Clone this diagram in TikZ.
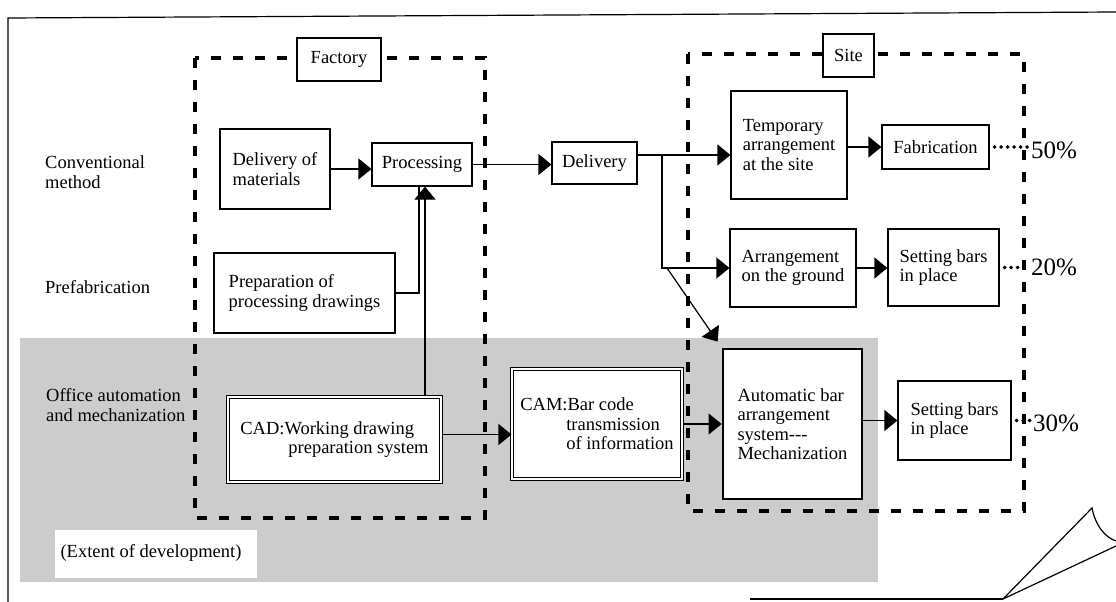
\documentclass[tikz,border=0pt]{standalone}
\usepackage{fontspec}
\setmainfont{Liberation Serif}
\usetikzlibrary{arrows.meta,calc}
\begin{document}
\begin{tikzpicture}[x=1pt,y=-1pt,
  every node/.style={font=\fontsize{18.5}{19.5}\selectfont},
  box/.style={draw=black,line width=1.2pt,fill=white,inner sep=0pt,align=left},
  dbox/.style={box,double=white,double distance=1.4pt,line width=1.1pt},
  tbox/.style={box,line width=2.8pt},
  zone/.style={line width=3.4pt,dash pattern=on 10pt off 12pt},
  arr/.style={line width=1.2pt,-{Triangle[length=13pt,width=21pt]}},
  conn/.style={line width=1.2pt},
  dotline/.style={line width=3.8pt,line cap=round,dash pattern=on 0pt off 6.5pt,shorten <=5pt,shorten >=1pt},
  side/.style={anchor=west,align=left,inner sep=0pt},
  pct/.style={anchor=west,inner sep=0pt,font=\fontsize{25}{25}\selectfont}]
\useasboundingbox (0,0) rectangle (1116,602);
\fill[white] (0,0) rectangle (1116,602);
% shaded extent of development
\fill[black!20] (20,338) rectangle (878,582);
\fill[white] (55,530) rectangle (257,578);
\node[inner sep=0pt] (extent) at (151,553) {(Extent of development)};
% outer frame and page curl
\draw[line width=1.2pt] (8,602) -- (8,18) -- (1116,12);
\draw[line width=1.2pt] (750,599) -- (1003,599);
\draw[line width=1.2pt] (1003,599) -- (1092,508) .. controls (1095,524) and (1104,537) .. (1116,541);
\draw[line width=1.2pt] (1003,599) -- (1116,546);
% zones
\draw[zone] (195,58) rectangle (485,518);
\draw[zone] (688,54) rectangle (1024,511);
\node[box,minimum width=84pt,minimum height=43pt] (factory) at (339,59.5) {Factory};
\node[box,minimum width=51pt,minimum height=43pt] (site) at (848.5,55.5) {Site};
% side labels
\node[side] (conv) at (45,172) {Conventional\\method};
\node[side] (prefab) at (45,287) {Prefabrication};
\node[side] (office) at (46,405) {Office automation\\and mechanization};
% boxes
\node[box,minimum width=110pt,minimum height=80pt] (dom) at (275,169) {Delivery of\\materials};
\node[box,minimum width=100pt,minimum height=43pt] (proc) at (422,164.5) {Processing};
\node[box,minimum width=181pt,minimum height=80pt] (prep) at (304.5,293) {Preparation of\\processing drawings};
\node[dbox,minimum width=213pt,minimum height=85pt] (cad) at (334.5,439.5) {CAD:Working drawing\\\hspace*{48pt}preparation system};
\node[box,minimum width=85pt,minimum height=42pt] (deliv) at (594.5,163) {Delivery};
\node[dbox,minimum width=170pt,minimum height=110pt] (cam) at (597,424) {CAM:Bar code\\\hspace*{46pt}transmission\\\hspace*{46pt}of information};
\node[box,minimum width=116pt,minimum height=108pt] (temp) at (789,145) {Temporary\\arrangement\\at the site};
\node[box,minimum width=107pt,minimum height=44pt] (fab) at (935.5,147) {Fabrication};
\node[box,minimum width=126pt,minimum height=78pt] (arrg) at (793,268) {Arrangement\\on the ground};
\node[box,minimum width=111pt,minimum height=77pt] (set2) at (943.5,267.5) {Setting bars\\in place};
\node[tbox,minimum width=139pt,minimum height=150pt] (auto) at (792.5,424) {Automatic bar\\arrangement\\system-{}-{}-\\Mechanization};
\node[box,minimum width=113pt,minimum height=79pt] (set3) at (954.5,420.5) {Setting bars\\in place};
% percentages
\node[pct] (p50) at (1031,150) {50\%};
\node[pct] (p20) at (1031,267) {20\%};
\node[pct] (p30) at (1033,423) {30\%};
% connectors
\draw[arr] (dom.east) -- (dom.east -| proc.west);
\draw[arr] (proc.east) -- (proc.east -| deliv.west);
\draw[arr] ([yshift=8pt]deliv.east) -- ([yshift=8pt]deliv.east -| temp.west);
\coordinate (br) at (662,155);
\draw[arr] (br) |- (arrg.west);
\coordinate (brd) at (667,268);
\draw[arr] (brd) -- ([shift={(-4pt,6pt)}]auto.north west);
\draw[arr] (temp.east |- fab.west) -- (fab.west);
\draw[arr] (arrg.east) -- (arrg.east -| set2.west);
\draw[conn] (prep.east) -| ([xshift=-3pt]proc.south);
\draw[arr] ([xshift=3pt]cad.north -| proc.south) -- ([xshift=3pt]proc.south);
\draw[arr] ([yshift=5pt]cad.east) -- ([yshift=5pt]cad.east -| cam.west);
\draw[arr] (cam.east) -- (cam.east -| auto.west);
\draw[arr] (auto.east |- set3.west) -- (set3.west);
\draw[dotline] (fab.east) -- (fab.east -| p50.west);
\draw[dotline] (set2.east) -- (set2.east -| p20.west);
\draw[dotline] (set3.east) -- (set3.east -| p30.west);
\end{tikzpicture}
\end{document}
